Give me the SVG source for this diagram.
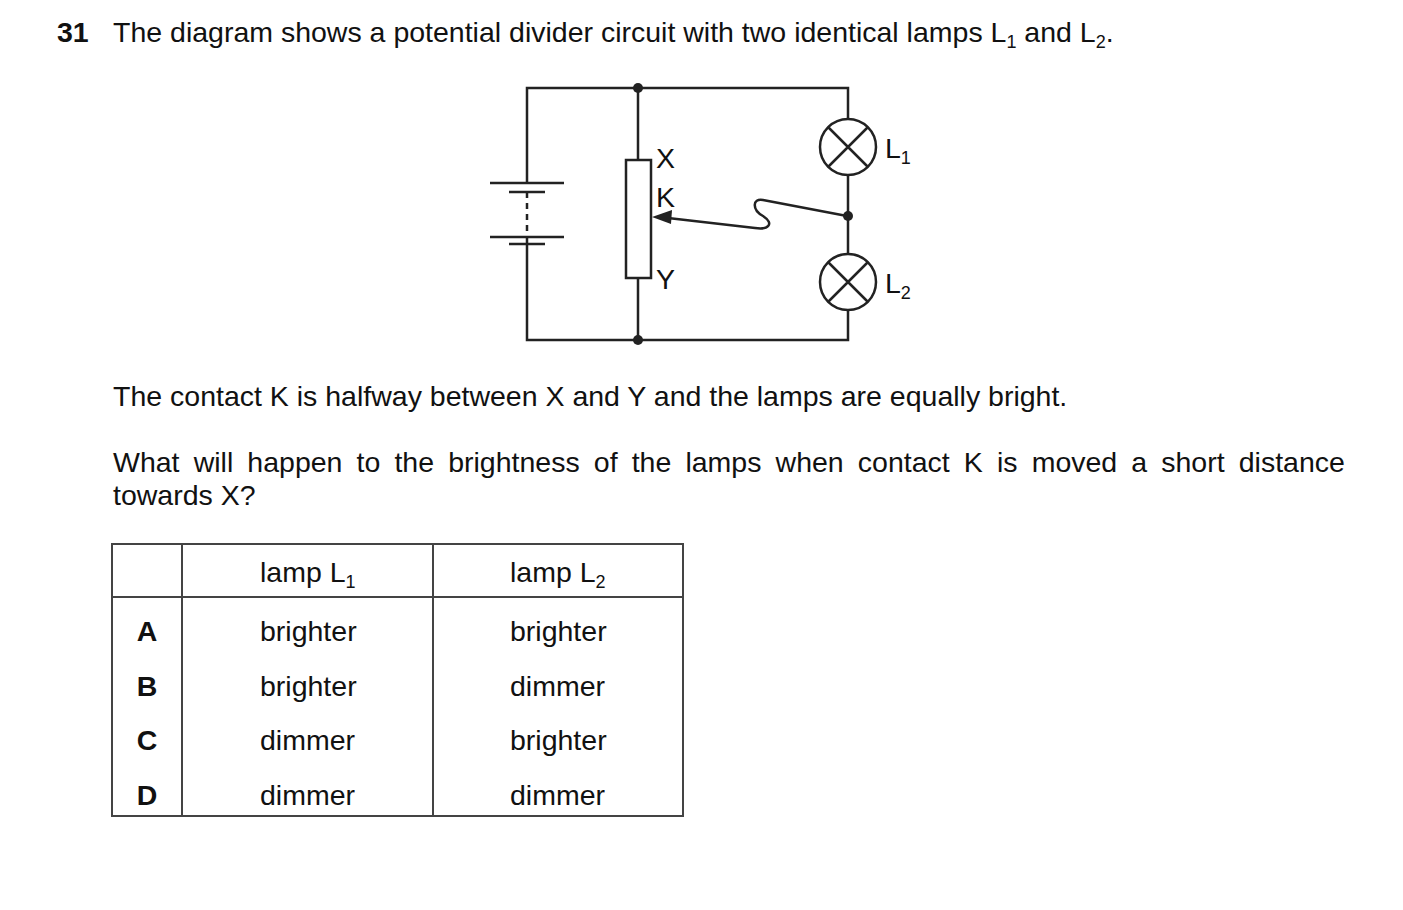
<svg xmlns="http://www.w3.org/2000/svg" width="1403" height="910" viewBox="0 0 1403 910">
<style>
text{font-family:"Liberation Sans",Arial,sans-serif;font-size:28.5px;fill:#111}
.b{font-weight:bold}
.w{stroke:#222;stroke-width:2.5;fill:none}
.t{stroke:#444;stroke-width:2;fill:none}
.s{font-size:18px}
</style>
<rect width="1403" height="910" fill="#fff"/>
<text x="57" y="42" class="b">31</text>
<text x="113" y="42">The diagram shows a potential divider circuit with two identical lamps L<tspan class="s" dy="6">1</tspan><tspan dy="-6"> and L</tspan><tspan class="s" dy="6">2</tspan><tspan dy="-6">.</tspan></text>
<g id="connectors">
<path class="w" d="M527 183V88H848V119M848 175V254M848 310V340H527V237"/>
<path class="w" d="M638 88V160M638 278V340"/>
<path class="w" d="M527 192V237" stroke-dasharray="6,5"/>
<path class="w" d="M847 216L763 200C752 198 752 210 763 216C775 224 768 230 755 228L668 218"/>
<polygon points="652,217 672,210 671,224" fill="#222"/>
</g>
<g id="battery" class="w">
<line x1="490" y1="183" x2="564" y2="183"/><line x1="509" y1="192" x2="545" y2="192"/>
<line x1="490" y1="237" x2="564" y2="237"/><line x1="509" y1="244" x2="545" y2="244"/>
</g>
<g id="resistor"><rect class="w" x="626" y="160" width="25" height="118"/>
<text x="656" y="168">X</text><text x="656" y="207">K</text><text x="656" y="289">Y</text></g>
<g id="junctions" fill="#222"><circle cx="638" cy="88" r="5"/><circle cx="638" cy="340" r="5"/><circle cx="848" cy="216" r="5"/></g>
<g id="L1"><circle class="w" cx="848" cy="147" r="28"/><path class="w" d="M828 127L868 167M868 127L828 167"/>
<text x="885" y="158">L<tspan class="s" dy="6">1</tspan></text></g>
<g id="L2"><circle class="w" cx="848" cy="282" r="28"/><path class="w" d="M828 262L868 302M868 262L828 302"/>
<text x="885" y="293">L<tspan class="s" dy="6">2</tspan></text></g>
<text x="113" y="406">The contact K is halfway between X and Y and the lamps are equally bright.</text>
<text x="113" y="472" word-spacing="6.2">What will happen to the brightness of the lamps when contact K is moved a short distance</text>
<text x="113" y="505">towards X?</text>
<g id="table">
<rect class="t" x="112" y="544" width="571" height="272"/>
<path class="t" d="M112 597H683M182 544V816M433 544V816"/>
<text x="260" y="582">lamp L<tspan class="s" dy="6">1</tspan></text>
<text x="510" y="582">lamp L<tspan class="s" dy="6">2</tspan></text>
<g class="b"><text x="147" y="641" text-anchor="middle">A</text><text x="147" y="696" text-anchor="middle">B</text><text x="147" y="750" text-anchor="middle">C</text><text x="147" y="805" text-anchor="middle">D</text></g>
<text x="260" y="641">brighter</text><text x="510" y="641">brighter</text>
<text x="260" y="696">brighter</text><text x="510" y="696">dimmer</text>
<text x="260" y="750">dimmer</text><text x="510" y="750">brighter</text>
<text x="260" y="805">dimmer</text><text x="510" y="805">dimmer</text>
</g>
</svg>
